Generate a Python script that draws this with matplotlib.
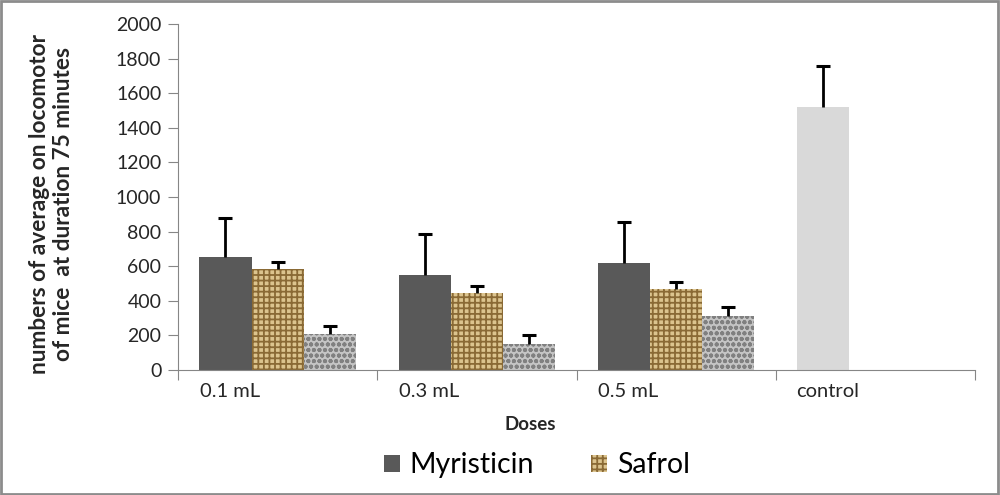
import matplotlib.pyplot as plt
import numpy as np
from matplotlib.patches import Rectangle

doses = ["0.1 mL", "0.3 mL", "0.5 mL", "control"]
myristicin = [651, 551, 620, 1523]
myristicin_err = [230, 235, 233, 234]
safrol = [582, 443, 466]
safrol_err = [40, 44, 44]
third = [206, 152, 310]
third_err = [50, 50, 52]

plt.rcParams['font.family'] = ['Lato', 'DejaVu Sans']
plt.rcParams['hatch.linewidth'] = 1.3

fig = plt.figure(figsize=(10, 4.95), dpi=100)
ax = fig.add_axes([0.178, 0.2525, 0.797, 0.699])

w = 0.262
x = np.arange(len(doses))


def up_err(xs, ys, errs):
    # only the upper half of the error bar, cap on top
    tops = np.array(ys) + np.array(errs)
    ax.vlines(xs, ys, tops, color='black', linewidth=2, zorder=3)
    ax.plot(xs, tops, ls='none', marker='_', markersize=10, mew=2.2,
            color='black', zorder=3)


# control bar takes a light grey fill, the rest dark grey
cols = ['#595959'] * 3 + ['#d9d9d9']
ax.bar(x - w, myristicin, w, color=cols, label='Myristicin')
plt.rcParams['hatch.color'] = '#8a6a35'
ax.bar(x[:3], safrol, w, color='#dcc48e', hatch='+++', linewidth=0,
       label='Safrol')
plt.rcParams['hatch.color'] = '#808080'
ax.bar(x[:3] + w, third, w, color='#c4c4c4', hatch='ooo', linewidth=0)
up_err(x - w, myristicin, myristicin_err)
up_err(x[:3], safrol, safrol_err)
up_err(x[:3] + w, third, third_err)

ax.set_xlim(-0.5, 3.5)
ax.set_ylim(0, 2000)
ax.set_yticks(range(0, 2001, 200))
ax.tick_params(axis='y', labelsize=14, colors='#868686', labelcolor='#262626',
               length=7, width=0.8, pad=5)
ax.set_xticks(np.arange(-0.5, 3.6, 1))
ax.set_xticklabels([])
ax.tick_params(axis='x', colors='#868686', length=7, width=0.8)
for s in ['top', 'right']:
    ax.spines[s].set_visible(False)
for s in ['left', 'bottom']:
    ax.spines[s].set_color('#868686')
    ax.spines[s].set_linewidth(0.8)

for i, lab in enumerate(doses):
    ax.text(i - 0.24, -125, lab, ha='center', va='center', fontsize=14.5,
            color='#262626')
ax.text(1.27, -315, 'Doses', ha='center', va='center', fontsize=13.5,
        fontweight='bold', color='#262626')

ax.set_ylabel('numbers of average on locomotor\nof mice  at duration 75 minutes',
              fontsize=16.3, fontweight='bold', color='#262626',
              linespacing=1.15, va='center')
ax.yaxis.set_label_coords(-0.159, 0.48)

h, l = ax.get_legend_handles_labels()
fig.legend(h[:2], l[:2], loc='center', bbox_to_anchor=(0.537, 0.06), ncol=2,
           frameon=False, fontsize=20.5, handlelength=0.56, handleheight=0.56,
           columnspacing=2.0, handletextpad=0.35)

fig.patches.append(Rectangle((0.001, 0.002), 0.997, 0.995, transform=fig.transFigure,
                             fill=False, edgecolor='#8c8c8c', linewidth=2))

fig.savefig('out.png', dpi=100)
